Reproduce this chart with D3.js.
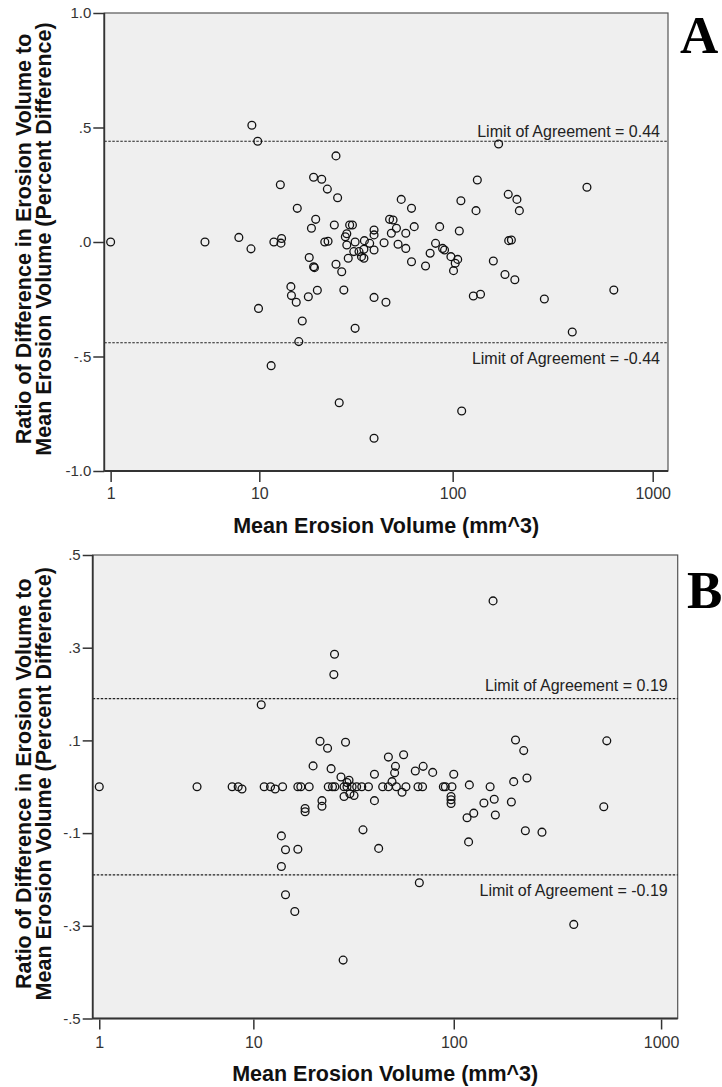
<!DOCTYPE html>
<html>
<head>
    <meta charset="UTF-8">
    <script src="https://d3js.org/d3.v7.min.js"></script>
    <style>
        body { margin: 0; background: #fff; }
        .tick text { font-family: "Liberation Sans", Arial, sans-serif; font-size: 15px; fill: #333; }
        .axis-x .tick text { font-size: 16px; }
        .tick line { stroke: #333; stroke-width: 1.5; }
        .axis-title { font-family: "Liberation Sans", Arial, sans-serif; font-size: 21.5px; font-weight: bold; fill: #111; }
        .loa-label { font-family: "Liberation Sans", Arial, sans-serif; font-size: 16px; fill: #222; }
        .panel-letter { font-family: "Liberation Serif", "Times New Roman", serif; font-size: 53px; font-weight: bold; fill: #000; }
    </style>
</head>
<body>
    <svg id="chart" width="722" height="1087"></svg>

    <script>
        // shared axis text
        const xTitle = "Mean Erosion Volume (mm^3)"
        const yTitle = ["Ratio of Difference in Erosion Volume to", "Mean Erosion Volume (Percent Difference)"]
        const xTicks = [1, 10, 100, 1000]
        const xTickLabels = ["1", "10", "100", "1000"]

        // panel A
        const volumeA = [1.0, 4.9, 7.7, 9.0, 9.1, 9.8, 9.9, 11.6, 12.0, 13.0,
            13.2, 13.1, 14.8, 14.9, 15.8, 16.0, 16.3, 17.0, 18.3, 18.5,
            19.0, 19.5, 19.5, 19.7, 20.0, 20.4, 21.5, 22.3, 23.0, 23.2,
            25.0, 25.5, 25.5, 26.0, 26.5, 27.3, 28.0, 28.5, 29.0, 29.0,
            29.5, 30.0, 31.0, 31.5, 32.0, 32.0, 33.5, 34.5, 35.5, 35.5,
            35.7, 38.0, 40.0, 40.0, 40.0, 40.0, 40.0, 45.0, 46.0, 48.0,
            49.0, 50.0, 52.0, 53.0, 55.0, 58.0, 58.0, 62.0, 62.0, 64.0,
            73.0, 77.0, 82.0, 86.0, 89.0, 91.0, 98.0, 101.0, 103.0, 106.0,
            108.0, 110.0, 111.0, 127.0, 131.0, 133.0, 138.0, 160.0, 170.0, 183.0,
            190.0, 191.0, 197.0, 205.0, 210.0, 216.0, 288.0, 397.0, 470.0, 640.0]
        const ratioA = [0.00, 0.00, 0.02, -0.03, 0.51, 0.44, -0.29, -0.54, 0.00, 0.25,
            0.015, -0.005, -0.195, -0.234, -0.263, 0.147, -0.435, -0.345, -0.239, -0.068,
            0.06, 0.283, -0.108, -0.112, 0.099, -0.211, 0.274, 0.00, 0.231, 0.003,
            0.074, 0.376, -0.097, 0.193, -0.702, -0.13, -0.21, 0.023, 0.036, -0.013,
            -0.071, 0.074, 0.074, -0.042, 0.00, -0.377, -0.042, -0.064, -0.071, -0.032,
            0.006, -0.006, 0.052, 0.031, -0.035, -0.242, -0.857, -0.003, -0.263, 0.099,
            0.038, 0.096, 0.06, -0.01, 0.186, 0.038, -0.028, 0.147, -0.086, 0.067,
            -0.105, -0.049, -0.006, 0.067, -0.028, -0.035, -0.064, -0.125, -0.093, -0.076,
            0.048, 0.18, -0.738, -0.236, 0.137, 0.271, -0.228, -0.083, 0.428, -0.142,
            0.208, 0.006, 0.009, -0.165, 0.186, 0.137, -0.249, -0.393, 0.239, -0.21]
        const limitsA = [0.44, -0.44]
        const yTicksA = [1, 0.5, 0, -0.5, -1]
        const yTickLabelsA = ["1.0", ".5", ".0", "-.5", "-1.0"]

        // panel B
        const volumeB = [1.0, 4.9, 7.7, 8.3, 8.7, 11.0, 11.4, 12.3, 13.0, 14.2,
            14.0, 14.0, 14.7, 14.7, 16.4, 17.0, 17.0, 17.6, 18.5, 18.5,
            19.4, 20.3, 22.0, 22.5, 22.5, 24.0, 24.2, 25.0, 25.4, 25.8,
            26.0, 26.1, 28.0, 28.7, 29.0, 29.5, 30.0, 30.7, 32.5, 29.0,
            30.0, 31.8, 33.5, 35.5, 38.3, 45.0, 48.0, 52.5, 58.5, 67.0,
            70.5, 89.0, 91.0, 98.0, 31.0, 36.0, 41.0, 41.0, 43.0, 48.0,
            50.0, 51.5, 52.0, 56.0, 57.0, 65.0, 68.0, 71.0, 79.0, 97.0,
            97.0, 97.0, 100.0, 116.0, 118.0, 119.0, 125.0, 140.0, 150.0, 155.0,
            157.0, 159.0, 190.0, 195.0, 199.0, 218.0, 222.0, 226.0, 267.0, 380.0,
            530.0, 548.0]
        const ratioB = [0, 0, 0, 0, -0.005, 0.177, 0, 0, -0.005, 0,
            -0.106, -0.172, -0.136, -0.233, -0.269, -0.135, 0, 0, -0.047, -0.054,
            0, 0.045, 0.098, -0.030, -0.042, 0.083, 0, 0.039, 0, 0.242,
            0.286, 0, 0.021, -0.374, -0.021, 0.096, 0.009, 0.014, -0.019, 0,
            0, 0, 0, 0, 0, 0, 0, 0, 0, 0,
            0, 0, 0, 0, -0.015, -0.093, 0.027, -0.030, -0.133, 0.064,
            0.011, 0.030, 0.044, -0.012, 0.069, 0.034, -0.207, 0.044, 0.031, -0.021,
            -0.028, -0.036, 0.027, -0.067, -0.119, 0.004, -0.057, -0.035, 0, 0.401,
            -0.027, -0.061, -0.033, 0.011, 0.101, 0.078, -0.095, 0.019, -0.098, -0.297,
            -0.043, 0.099]
        const limitsB = [0.19, -0.19]
        const yTicksB = [0.5, 0.3, 0.1, -0.1, -0.3, -0.5]
        const yTickLabelsB = [".5", ".3", ".1", "-.1", "-.3", "-.5"]

        let svg = d3.select("#chart")

        function drawPanel(p) {
            // SPSS "safe log" axis: log10(1 + x)
            let xScale = d3.scaleSymlog().constant(1)
                .domain(p.xDomain)
                .range([p.left, p.right])
            let yScale = d3.scaleLinear()
                .domain(p.yDomain)
                .range([p.bottom, p.top])

            let g = svg.append("g")

            g.append("rect")
                .attr("x", p.left)
                .attr("y", p.top)
                .attr("width", p.right - p.left)
                .attr("height", p.bottom - p.top)
                .attr("fill", "#efefef")
                .attr("stroke", "#555")
                .attr("stroke-width", 1.2)

            // limits of agreement
            g.selectAll(".loa")
                .data(p.limits)
                .join("line")
                .attr("class", "loa")
                .attr("x1", p.left)
                .attr("x2", p.right)
                .attr("y1", d => yScale(d))
                .attr("y2", d => yScale(d))
                .attr("stroke", "#222")
                .attr("stroke-width", 1.2)
                .attr("stroke-dasharray", "2.5,1.5")

            g.selectAll(".loa-label")
                .data(p.limits)
                .join("text")
                .attr("class", "loa-label")
                .attr("x", p.right - p.labelInset)
                .attr("y", (d, i) => yScale(d) + p.labelDy[i])
                .attr("text-anchor", "end")
                .text(d => "Limit of Agreement = " + d.toFixed(2))

            // points
            let points = p.volume.map((v, i) => ({ v: v, r: p.ratio[i] }))
            g.selectAll("circle")
                .data(points)
                .join("circle")
                .attr("cx", d => xScale(d.v))
                .attr("cy", d => yScale(d.r))
                .attr("r", 3.9)
                .attr("fill", "none")
                .attr("stroke", "#111")
                .attr("stroke-width", 1.3)

            // axes
            g.append("g")
                .attr("class", "axis-x")
                .attr("transform", "translate(0," + (p.bottom + 1) + ")")
                .call(d3.axisBottom(xScale)
                    .tickValues(xTicks)
                    .tickFormat((d, i) => xTickLabels[i])
                    .tickSize(10)
                    .tickSizeOuter(0)
                    .tickPadding(p.xPad))
                .call(a => a.select(".domain").remove())

            g.append("g")
                .attr("class", "axis-y")
                .attr("transform", "translate(" + p.left + ",0)")
                .call(d3.axisLeft(yScale)
                    .tickValues(p.yTicks)
                    .tickFormat((d, i) => p.yTickLabels[i])
                    .tickSize(p.yTickSize)
                    .tickSizeOuter(0)
                    .tickPadding(2))
                .call(a => a.select(".domain").remove())

            g.append("line")
                .attr("x1", p.left).attr("x2", p.left)
                .attr("y1", p.top).attr("y2", p.bottom)
                .attr("stroke", "#333").attr("stroke-width", 1.8)
            g.append("line")
                .attr("x1", p.left).attr("x2", p.right)
                .attr("y1", p.bottom).attr("y2", p.bottom)
                .attr("stroke", "#333").attr("stroke-width", 1.8)

            // titles
            let midY = (p.top + p.bottom) / 2
            g.selectAll(".y-title")
                .data(yTitle)
                .join("text")
                .attr("class", "axis-title y-title")
                .attr("text-anchor", "middle")
                .attr("transform", (d, i) => "translate(" + (31 + i * 20) + "," + (midY - 3) + ") rotate(-90)")
                .text(d => d)

            g.append("text")
                .attr("class", "axis-title")
                .attr("text-anchor", "middle")
                .attr("x", (p.left + p.right) / 2)
                .attr("y", p.xTitleY)
                .text(xTitle)

            g.append("text")
                .attr("class", "panel-letter")
                .attr("x", p.letterX)
                .attr("y", p.letterY)
                .text(p.letter)
        }

        drawPanel({
            volume: volumeA, ratio: ratioA, limits: limitsA,
            yTicks: yTicksA, yTickLabels: yTickLabelsA,
            xDomain: [0.86, 1192], yDomain: [-1, 1],
            left: 104.3, right: 668, top: 13, bottom: 471,
            yTickSize: 11, xPad: 6, labelInset: 8, labelDy: [-4, 21],
            xTitleY: 533, letter: "A", letterX: 680, letterY: 53
        })

        drawPanel({
            volume: volumeB, ratio: ratioB, limits: limitsB,
            yTicks: yTicksB, yTickLabels: yTickLabelsB,
            xDomain: [0.86, 1202], yDomain: [-0.5, 0.5],
            left: 92.7, right: 677.7, top: 555, bottom: 1018.5,
            yTickSize: 10, xPad: 7, labelInset: 10, labelDy: [-8, 21],
            xTitleY: 1081, letter: "B", letterX: 687, letterY: 608
        })
    </script>
</body>
</html>
